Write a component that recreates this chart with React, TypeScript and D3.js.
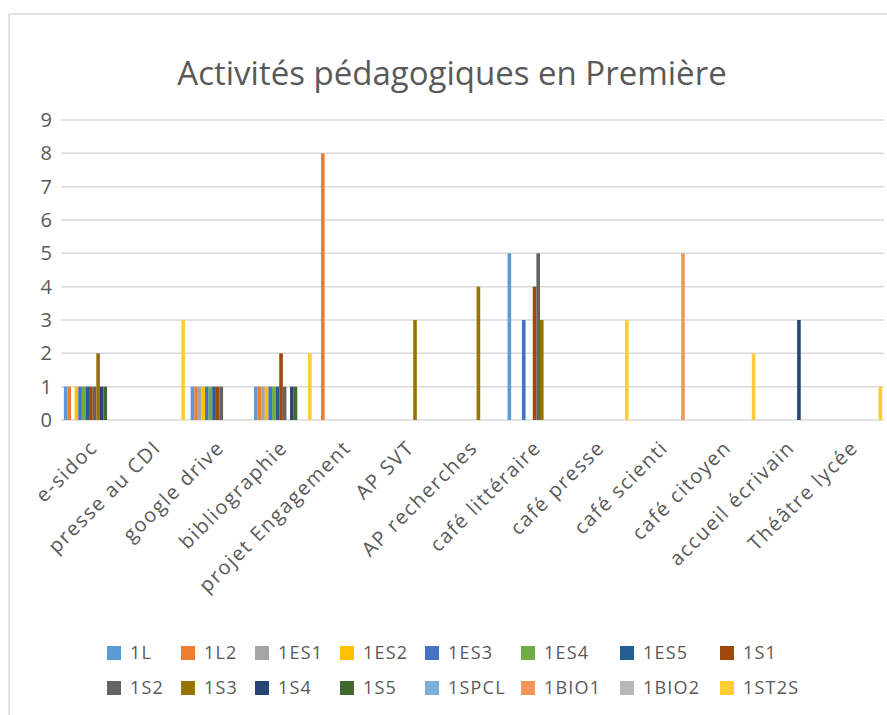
import { scaleBand, scaleLinear, range } from 'd3';

const categories = ['e-sidoc', 'presse au CDI', 'google drive', 'bibliographie', 'projet Engagement', 'AP SVT',
  'AP recherches', 'café littéraire', 'café presse', 'café scienti', 'café citoyen', 'accueil écrivain', 'Théâtre lycée'];

const seriesNames = ['1L', '1L2', '1ES1', '1ES2', '1ES3', '1ES4', '1ES5', '1S1', '1S2', '1S3', '1S4', '1S5', '1SPCL', '1BIO1', '1BIO2', '1ST2S'];

const seriesColors = ['#5B9BD5', '#ED7D31', '#A5A5A5', '#FFC000', '#4472C4', '#70AD47', '#255E91', '#9E480E',
  '#636363', '#997300', '#264478', '#43682B', '#7CAFDD', '#F1975A', '#B7B7B7', '#FFCD33'];

// one row per category, one value per class (same order as seriesNames)
const esidoc = [1, 1, 0, 1, 1, 1, 1, 1, 1, 2, 1, 1, 0, 0, 0, 0];
const presseCDI = [0, 0, 0, 0, 0, 0, 0, 0, 0, 0, 0, 0, 0, 0, 0, 3];
const googleDrive = [1, 1, 1, 1, 1, 1, 1, 1, 1, 0, 0, 0, 0, 0, 0, 0];
const bibliographie = [1, 1, 1, 1, 1, 1, 1, 2, 1, 0, 1, 1, 0, 0, 0, 2];
const projetEngagement = [0, 8, 0, 0, 0, 0, 0, 0, 0, 0, 0, 0, 0, 0, 0, 0];
const apSvt = [0, 0, 0, 0, 0, 0, 0, 0, 0, 3, 0, 0, 0, 0, 0, 0];
const apRecherches = [0, 0, 0, 0, 0, 0, 0, 0, 0, 4, 0, 0, 0, 0, 0, 0];
const cafeLitteraire = [5, 0, 0, 0, 3, 0, 0, 4, 5, 3, 0, 0, 0, 0, 0, 0];
const cafePresse = [0, 0, 0, 0, 0, 0, 0, 0, 0, 0, 0, 0, 0, 0, 0, 3];
const cafeScienti = [0, 0, 0, 0, 0, 0, 0, 0, 0, 0, 0, 0, 0, 5, 0, 0];
const cafeCitoyen = [0, 0, 0, 0, 0, 0, 0, 0, 0, 0, 0, 0, 0, 0, 0, 2];
const accueilEcrivain = [0, 0, 0, 0, 0, 0, 0, 0, 0, 0, 3, 0, 0, 0, 0, 0];
const theatreLycee = [0, 0, 0, 0, 0, 0, 0, 0, 0, 0, 0, 0, 0, 0, 0, 1];

const values = [esidoc, presseCDI, googleDrive, bibliographie, projetEngagement, apSvt, apRecherches,
  cafeLitteraire, cafePresse, cafeScienti, cafeCitoyen, accueilEcrivain, theatreLycee];

const yTicks = range(0, 10);

const textColor = '#595959';
const gridColor = '#D9D9D9';
const font = "'Open Sans', sans-serif";

// legend columns (8 per row) -- offsets
const legendCols = [107, 181, 255, 340, 425, 521, 620, 720];

export default function App() {
  const width = 887, height = 715;
  const x0 = scaleBand<string>().domain(categories).range([61, 885]).paddingInner(0.09).paddingOuter(0.045);
  const x1 = scaleBand<string>().domain(seriesNames).range([0, x0.bandwidth()]);
  const y = scaleLinear().domain([0, 9]).range([420, 120]);

  return (
    <svg width={width} height={height} style={{ position: 'absolute', left: 0, top: 0, background: '#fff' }}>
      <rect x={9} y={14} width={900} height={720} fill='#fff' stroke={gridColor} strokeWidth={1.5} />
      <text x={452} y={85} textAnchor='middle' fontFamily={font} fontSize={33} fill={textColor}>
        Activités pédagogiques en Première
      </text>

      {yTicks.map(t => (
        <g key={t}>
          <line x1={61} x2={884} y1={y(t)} y2={y(t)} stroke={gridColor} strokeWidth={1.5} />
          <text x={52} y={y(t)} dy='0.35em' textAnchor='end' fontFamily={font} fontSize={20} fill={textColor}>{t}</text>
        </g>
      ))}

      {values.map((row, ci) => (
        <g key={categories[ci]} transform={`translate(${x0(categories[ci])},0)`}>
          {row.map((v, si) => v > 0 && (
            <rect key={si} x={x1(seriesNames[si])} y={y(v)} width={x1.bandwidth()} height={y(0) - y(v)} fill={seriesColors[si]} />
          ))}
        </g>
      ))}

      {categories.map(c => {
        const cx = (x0(c) ?? 0) + x0.bandwidth() / 2;
        return (
          <text key={c} transform={`translate(${cx + 1},444) rotate(-45)`} textAnchor='end' dy='0.35em'
            fontFamily={font} fontSize={20} letterSpacing={1.6} fill={textColor}>{c}</text>
        );
      })}

      {seriesNames.map((s, i) => {
        const lx = legendCols[i % 8];
        const ly = i < 8 ? 646 : 681;
        return (
          <g key={s}>
            <rect x={lx} y={ly} width={14} height={14} fill={seriesColors[i]} />
            <text x={lx + 23} y={ly + 7} dy='0.35em' fontFamily={font} fontSize={18} letterSpacing={1.2} fill={textColor}>{s}</text>
          </g>
        );
      })}
    </svg>
  );
}
